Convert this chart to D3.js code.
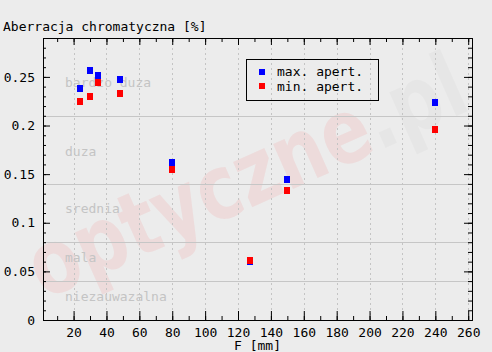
<!DOCTYPE html>
<html lang="pl">
<head>
<meta charset="utf-8" />
<title>Aberracja chromatyczna</title>
<style>
  body { margin: 0; background: #ececec; }
  svg text { font-family: "DejaVu Sans Mono", monospace; font-size: 13px; }
</style>
</head>
<body>
<div class="svg"></div>
<script src="https://d3js.org/d3.v7.min.js"></script>
<script>
  // data
  const focal = [24, 30, 35, 48, 80, 127, 150, 240];
  const maxApert = [0.2376, 0.2562, 0.2510, 0.2469, 0.1624, 0.0603, 0.1450, 0.2234];
  const minApert = [0.2242, 0.2294, 0.2438, 0.2325, 0.1552, 0.0617, 0.1335, 0.1955];
  const seriesNames = ["max. apert.", "min. apert."];
  const seriesColors = ["#0000ff", "#ff0000"];

  const xTicks = [20, 40, 60, 80, 100, 120, 140, 160, 180, 200, 220, 240, 260];
  const xMinor = d3.range(10, 261, 10);
  const yTicks = [0, 0.05, 0.1, 0.15, 0.2, 0.25];
  const yMinor = d3.range(0, 30).map(i => i / 100);

  // quality bands
  const bandLimits = [0.04, 0.08, 0.14, 0.21];
  const bandNames = ["niezauwazalna", "mala", "srednia", "duza", "bardzo duza"];
  const bandLabelY = [0.0247, 0.0639, 0.1144, 0.1735, 0.244];

  const width = 492, height = 352;
  const pLeft = 43, pRight = 472, pTop = 38, pBottom = 320;

  const svg = d3.select(".svg")
                .append("svg")
                .attr("width", width)
                .attr("height", height)
                .style("display", "block");

  svg.append("rect")
     .attr("width", width)
     .attr("height", height)
     .attr("fill", "#ececec");

  const xScale = d3.scaleLinear()
                   .domain([1.4, 262.3])
                   .range([pLeft, pRight]);
  const yScale = d3.scaleLinear()
                   .domain([0, 0.29])
                   .range([pBottom, pTop]);

  //watermark
  const wm = svg.append("text")
     .attr("transform", "translate(44,300) rotate(-24)")
     .style("font-family", "'DejaVu Sans', sans-serif")
     .style("font-size", "90px")
     .style("font-weight", "bold")
     .attr("textLength", 470)
     .attr("lengthAdjust", "spacingAndGlyphs");
  wm.append("tspan").attr("fill", "#ff0000").attr("fill-opacity", 0.07).text("optyczne");
  wm.append("tspan").attr("fill", "#000000").attr("fill-opacity", 0.025).text(".pl");

  //band lines
  svg.selectAll(".band")
     .data(bandLimits)
     .enter()
     .append("line")
     .attr("x1", pLeft)
     .attr("x2", pRight)
     .attr("y1", d => Math.round(yScale(d)) + 0.5)
     .attr("y2", d => Math.round(yScale(d)) + 0.5)
     .attr("stroke", "#c6c6c6");

  //vertical dotted grid
  svg.selectAll(".vgrid")
     .data(xTicks)
     .enter()
     .append("line")
     .attr("x1", d => Math.round(xScale(d)) + 0.5)
     .attr("x2", d => Math.round(xScale(d)) + 0.5)
     .attr("y1", pTop)
     .attr("y2", pBottom)
     .attr("stroke", "#c4c4c4")
     .attr("stroke-dasharray", "2,3");

  //band labels
  svg.selectAll(".bandlabel")
     .data(bandNames)
     .enter()
     .append("text")
     .attr("x", 65)
     .attr("y", (d, i) => yScale(bandLabelY[i]))
     .attr("dy", "0.35em")
     .attr("fill", "#c4c4c4")
     .text(d => d);

  //axes
  const fmt = d => d === 0 ? "0" : String(+d.toFixed(2));

  svg.append("g")
     .attr("transform", "translate(0," + pBottom + ")")
     .call(d3.axisBottom(xScale).tickValues(xMinor).tickSize(-4).tickFormat(""));
  svg.append("g")
     .attr("transform", "translate(0," + pBottom + ")")
     .call(d3.axisBottom(xScale).tickValues(xTicks).tickSize(-9).tickPadding(8).tickSizeOuter(0).tickFormat(d3.format("d")));

  svg.append("g")
     .attr("transform", "translate(0," + pTop + ")")
     .call(d3.axisTop(xScale).tickValues(xMinor).tickSize(-4).tickFormat(""));
  svg.append("g")
     .attr("transform", "translate(0," + pTop + ")")
     .call(d3.axisTop(xScale).tickValues(xTicks).tickSize(-7).tickSizeOuter(0).tickFormat(""));

  svg.append("g")
     .attr("transform", "translate(" + pLeft + ",0)")
     .call(d3.axisLeft(yScale).tickValues(yMinor).tickSize(-3).tickSizeOuter(0).tickFormat(""));
  svg.append("g")
     .attr("transform", "translate(" + pLeft + ",0)")
     .call(d3.axisLeft(yScale).tickValues(yTicks).tickSize(-7).tickPadding(8).tickSizeOuter(0).tickFormat(fmt));

  svg.append("g")
     .attr("transform", "translate(" + pRight + ",0)")
     .call(d3.axisRight(yScale).tickValues(yMinor).tickSize(-4).tickSizeOuter(0).tickFormat(""));
  svg.append("g")
     .attr("transform", "translate(" + pRight + ",0)")
     .call(d3.axisRight(yScale).tickValues(yTicks).tickSize(-8).tickSizeOuter(0).tickFormat(""));

  svg.selectAll(".domain").attr("stroke", "#000");
  svg.selectAll(".tick line").attr("stroke", "#000");
  svg.selectAll(".tick text")
     .attr("fill", "#000")
     .style("font-family", "'DejaVu Sans Mono', monospace")
     .style("font-size", "13px");

  //points
  [maxApert, minApert].forEach((vals, s) => {
    svg.append("g")
       .selectAll("rect")
       .data(vals)
       .enter()
       .append("rect")
       .attr("x", (d, i) => Math.round(xScale(focal[i]) - 3))
       .attr("y", d => Math.round(yScale(d) - 3.5))
       .attr("width", 6)
       .attr("height", 7)
       .attr("fill", seriesColors[s]);
  });

  //legend
  svg.append("rect")
     .attr("x", 246.5)
     .attr("y", 59.5)
     .attr("width", 132)
     .attr("height", 41)
     .attr("fill", "none")
     .attr("stroke", "#000");

  seriesNames.forEach((name, i) => {
    svg.append("rect")
       .attr("x", 259)
       .attr("y", 69 + i * 14)
       .attr("width", 6)
       .attr("height", 6)
       .attr("fill", seriesColors[i]);
    svg.append("text")
       .attr("x", 277)
       .attr("y", 76 + i * 15)
       .attr("fill", "#000")
       .text(name);
  });

  //title
  svg.append("text")
     .attr("x", 3)
     .attr("y", 31)
     .attr("fill", "#000")
     .text("Aberracja chromatyczna [%]");

  //x label
  svg.append("text")
     .attr("x", (pLeft + pRight) / 2)
     .attr("y", 350)
     .attr("text-anchor", "middle")
     .attr("fill", "#000")
     .text("F [mm]");
</script>
</body>
</html>
